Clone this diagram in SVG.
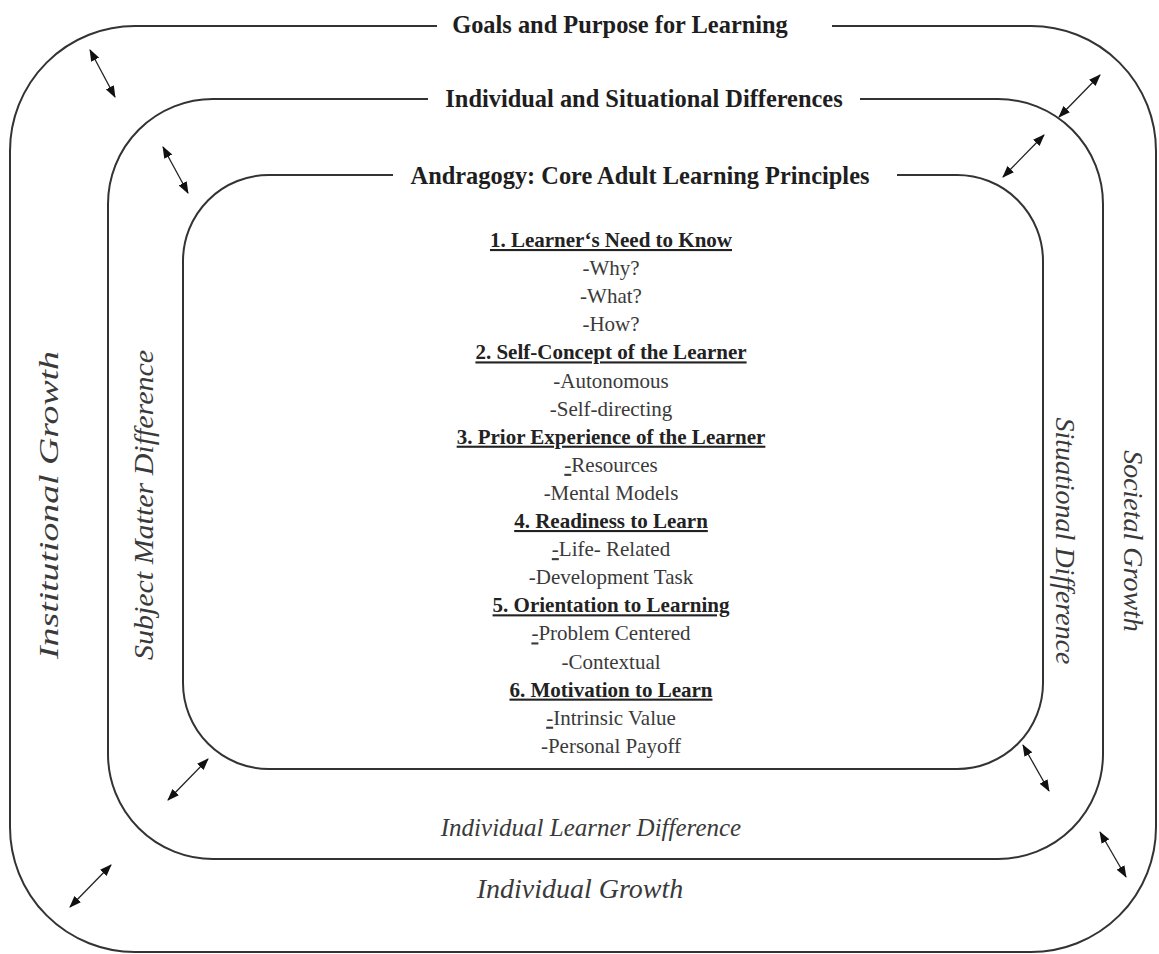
<svg xmlns="http://www.w3.org/2000/svg" width="1159" height="954" viewBox="0 0 1159 954">
  <style>
    .frame { fill: none; stroke: #333; stroke-width: 2; }
    .title { font-family: "Liberation Serif", "Times New Roman", serif; font-weight: bold; font-size: 24.4px; fill: #1e1e1e; text-anchor: middle; }
    .head { font-family: "Liberation Serif", "Times New Roman", serif; font-weight: bold; font-size: 21px; fill: #222; text-anchor: middle; text-decoration: underline; }
    .item { font-family: "Liberation Serif", "Times New Roman", serif; font-size: 21px; fill: #3a3a3a; text-anchor: middle; }
    .side { font-family: "Liberation Serif", "Times New Roman", serif; font-style: italic; font-size: 28px; fill: #3a3a3a; text-anchor: middle; }
    .link { stroke: #222; stroke-width: 1.3; fill: none; marker-start: url(#tip); marker-end: url(#tip); }
  </style>
  <defs>
    <marker id="tip" viewBox="0 0 12 9" refX="11" refY="4.5" markerWidth="12" markerHeight="9" markerUnits="userSpaceOnUse" orient="auto-start-reverse">
      <path d="M0,0 L12,4.5 L0,9 z" fill="#111"/>
    </marker>
  </defs>
  <rect width="1159" height="954" fill="#fff"/>

  <!-- outer ring: goals and purpose -->
  <g id="ring-goals">
    <path class="frame" d="M437,26 H135 A125,125 0 0 0 10,151 V827 A125,125 0 0 0 135,952 H1031 A125,125 0 0 0 1156,827 V151 A125,125 0 0 0 1031,26 H832"/>
    <text class="title" x="620" y="33">Goals and Purpose for Learning</text>
    <text class="side" transform="translate(58,505) rotate(-90)" textLength="308" lengthAdjust="spacingAndGlyphs">Institutional Growth</text>
    <text class="side" transform="translate(1124,541) rotate(90)">Societal Growth</text>
    <text class="side" x="580" y="898">Individual Growth</text>
  </g>

  <!-- middle ring: individual and situational differences -->
  <g id="ring-differences">
    <path class="frame" d="M428,99 H213 A105,105 0 0 0 108,204 V754 A105,105 0 0 0 213,859 H998 A105,105 0 0 0 1103,754 V204 A105,105 0 0 0 998,99 H860"/>
    <text class="title" x="644" y="107">Individual and Situational Differences</text>
    <text class="side" transform="translate(153,505) rotate(-90)" textLength="310" lengthAdjust="spacingAndGlyphs">Subject Matter Difference</text>
    <text class="side" transform="translate(1056,541) rotate(90)">Situational Difference</text>
    <text class="side" x="591" y="836" style="font-size:25px">Individual Learner Difference</text>
  </g>

  <!-- inner ring: andragogy principles -->
  <g id="ring-andragogy">
    <path class="frame" d="M393,175 H269 A86,86 0 0 0 183,261 V683 A86,86 0 0 0 269,769 H957 A86,86 0 0 0 1043,683 V261 A86,86 0 0 0 957,175 H897"/>
    <text class="title" x="640" y="184">Andragogy: Core Adult Learning Principles</text>
  </g>

  <!-- principle list -->
  <g id="principles">
    <text class="head" x="611" y="247">1. Learner‘s Need to Know</text>
    <text class="item" x="611" y="275.1">-Why?</text>
    <text class="item" x="611" y="303.2">-What?</text>
    <text class="item" x="611" y="331.3">-How?</text>
    <text class="head" x="611" y="359.4">2. Self-Concept of the Learner</text>
    <text class="item" x="611" y="387.5">-Autonomous</text>
    <text class="item" x="611" y="415.6">-Self-directing</text>
    <text class="head" x="611" y="443.7">3. Prior Experience of the Learner</text>
    <text class="item" x="611" y="471.8"><tspan text-decoration="underline">-</tspan>Resources</text>
    <text class="item" x="611" y="499.9">-Mental Models</text>
    <text class="head" x="611" y="528">4. Readiness to Learn</text>
    <text class="item" x="611" y="556.1"><tspan text-decoration="underline">-</tspan>Life- Related</text>
    <text class="item" x="611" y="584.2">-Development Task</text>
    <text class="head" x="611" y="612.3">5. Orientation to Learning</text>
    <text class="item" x="611" y="640.4"><tspan text-decoration="underline">-</tspan>Problem Centered</text>
    <text class="item" x="611" y="668.5">-Contextual</text>
    <text class="head" x="611" y="696.6">6. Motivation to Learn</text>
    <text class="item" x="611" y="724.7"><tspan text-decoration="underline">-</tspan>Intrinsic Value</text>
    <text class="item" x="611" y="752.8">-Personal Payoff</text>
  </g>

  <!-- two-way links between rings -->
  <g id="connectors">
    <line class="link" x1="90" y1="50" x2="115" y2="97"/>
    <line class="link" x1="163" y1="147" x2="188" y2="193"/>
    <line class="link" x1="1100" y1="75" x2="1059" y2="117"/>
    <line class="link" x1="1044" y1="135" x2="1003" y2="177"/>
    <line class="link" x1="208" y1="759" x2="168" y2="800"/>
    <line class="link" x1="111" y1="865" x2="70" y2="907"/>
    <line class="link" x1="1023" y1="745" x2="1049" y2="791"/>
    <line class="link" x1="1100" y1="832" x2="1126" y2="877"/>
  </g>
</svg>
